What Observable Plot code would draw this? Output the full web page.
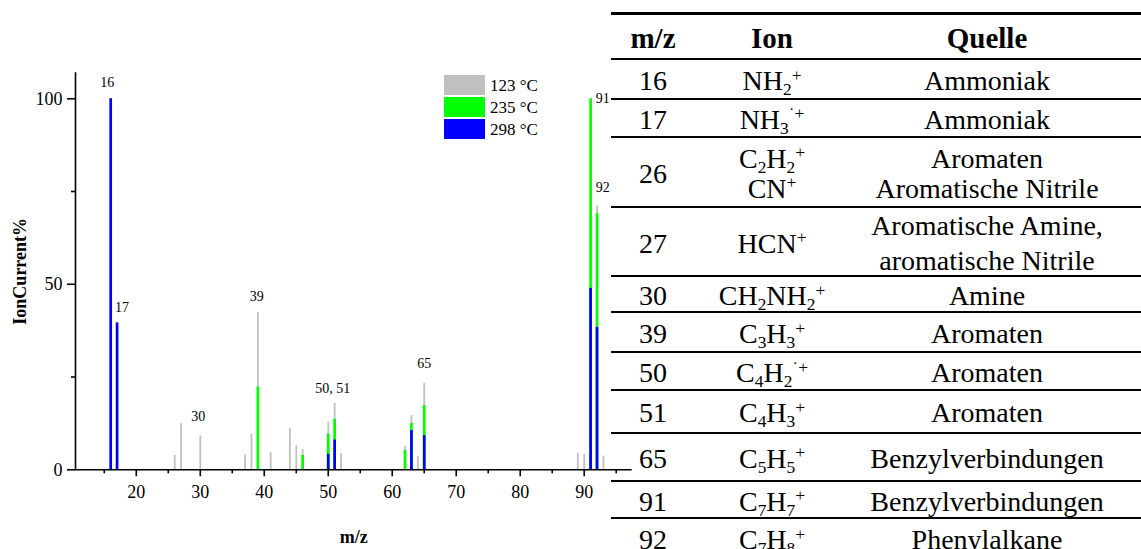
<!DOCTYPE html>
<html>
<head>
<meta charset="utf-8">
<script src="https://cdn.jsdelivr.net/npm/d3@7"></script>
<script src="https://cdn.jsdelivr.net/npm/@observablehq/plot@0.6"></script>
<style>
  html, body { margin: 0; padding: 0; background: #fff; }
  #wrap { position: relative; width: 1141px; height: 549px; overflow: hidden;
          font-family: "Liberation Serif", "Times New Roman", serif; color: #000; }
  #chart { position: absolute; left: 0; top: 0; }
  #legend { position: absolute; left: 444px; top: 74px; }
  .lg-row { display: flex; align-items: center; height: 22px; }
  .lg-sw { width: 41px; height: 19.5px; margin-right: 5px; }
  .lg-tx { font-size: 17px; line-height: 1; white-space: nowrap; }
  #table { position: absolute; left: 611px; top: 0; width: 530px; height: 549px; }
  .tline { position: absolute; left: 0; width: 530px; background: #000; }
  .row { position: absolute; left: 0; width: 530px; display: flex; align-items: center;
         font-size: 28px; line-height: 34px; padding-top: 4px; box-sizing: border-box; }
  .row.head { font-weight: bold; font-size: 29px; }
  .c1 { width: 84px; text-align: center; }
  .c2 { width: 154px; text-align: center; }
  .c3 { width: 292px; text-align: center; padding-right: 16px; box-sizing: border-box; }
  sup, sub { font-size: 0.62em; line-height: 0; position: relative; vertical-align: baseline; }
  sup { top: -0.55em; }
  sub { top: 0.28em; }
</style>
</head>
<body>
<div id="wrap">
  <div id="chart"></div>
  <div id="legend"></div>
  <div id="table"></div>
</div>
<script>
// ---------- chart data ----------
const seriesNames = ["123 °C", "235 °C", "298 °C"];

const mzGray  = [26, 27, 30, 37, 38, 39, 41, 44, 45, 46, 50, 51, 52, 62, 63, 64, 65, 89, 90, 92, 93];
const ionGray = [3.9, 12.4, 9.1, 4.0, 9.6, 42.4, 4.6, 11.1, 6.5, 5.4, 12.8, 17.9, 4.3, 6.3, 14.6, 3.6, 23.3, 4.5, 4.1, 71.2, 3.7];

const mzGreen  = [39, 46, 50, 51, 62, 63, 65, 91, 92];
const ionGreen = [22.3, 3.9, 9.6, 13.6, 5.2, 12.5, 17.3, 100, 69.0];

const mzBlue  = [16, 17, 50, 51, 63, 65, 91, 92];
const ionBlue = [100, 39.6, 4.2, 8.0, 10.6, 9.2, 48.9, 38.4];

const peakLabels = ["16", "17", "30", "39", "50, 51", "65", "91", "92"];
const peakLabelMz = [16, 17, 30, 39, 50.5, 65, 91, 92];

const xTicks = [20, 30, 40, 50, 60, 70, 80, 90];
const xMinorTicks = [15, 25, 35, 45, 55, 65, 75, 85, 95];
const yTicks = [0, 50, 100];
const yMinorTicks = [25, 75];

const xTitle = "m/z";
const yTitle = "IonCurrent%";

// ---------- table data ----------
const tableHeader = ["m/z", "Ion", "Quelle"];
const tableMz = ["16", "17", "26", "27", "30", "39", "50", "51", "65", "91", "92"];
const tableIon = [
  "NH<sub>2</sub><sup>+</sup>",
  "NH<sub>3</sub><sup>˙+</sup>",
  "C<sub>2</sub>H<sub>2</sub><sup>+</sup><br>CN<sup>+</sup>",
  "HCN<sup>+</sup>",
  "CH<sub>2</sub>NH<sub>2</sub><sup>+</sup>",
  "C<sub>3</sub>H<sub>3</sub><sup>+</sup>",
  "C<sub>4</sub>H<sub>2</sub><sup>˙+</sup>",
  "C<sub>4</sub>H<sub>3</sub><sup>+</sup>",
  "C<sub>5</sub>H<sub>5</sub><sup>+</sup>",
  "C<sub>7</sub>H<sub>7</sub><sup>+</sup>",
  "C<sub>7</sub>H<sub>8</sub><sup>+</sup>"
];
const tableSource = [
  "Ammoniak",
  "Ammoniak",
  "Aromaten<br>Aromatische Nitrile",
  "Aromatische Amine,<br>aromatische Nitrile",
  "Amine",
  "Aromaten",
  "Aromaten",
  "Aromaten",
  "Benzylverbindungen",
  "Benzylverbindungen",
  "Phenylalkane"
];

// ---------- styling ----------
const colors = ["#c0c0c0", "#00ff00", "#0000ff"];
const barWidths = [1.8, 2.7, 2.7];
const labelOffsets = {
  "16": {dx: -3.5, dy: -16.6, anchor: "middle"},
  "17": {dx: 5, dy: -15.6, anchor: "middle"},
  "30": {dx: -2, dy: -20, anchor: "middle"},
  "39": {dx: -1, dy: -16.3, anchor: "middle"},
  "50, 51": {dx: 1.4, dy: -14.6, anchor: "middle"},
  "65": {dx: 0, dy: -20, anchor: "middle"},
  "91": {dx: 5.2, dy: 0, anchor: "start"},
  "92": {dx: -1.2, dy: -17.8, anchor: "start"}
};
const tableTop = 13.3;
const headHeight = 46;
const rowHeights = [40, 37.4, 70, 69.3, 36.3, 40, 37.7, 42.7, 48.6, 37, 40];
const rowLineHeights = [34, 34, 30, 35, 34, 34, 34, 34, 34, 34, 34];

// ---------- build chart ----------
const rows = [
  ...mzGray.map((mz, i) => ({mz, value: ionGray[i], series: seriesNames[0]})),
  ...mzGreen.map((mz, i) => ({mz, value: ionGreen[i], series: seriesNames[1]})),
  ...mzBlue.map((mz, i) => ({mz, value: ionBlue[i], series: seriesNames[2]}))
];
const labels = peakLabels.map((text, i) => {
  const mz = peakLabelMz[i];
  const top = d3.max(rows.filter(d => Math.abs(d.mz - mz) <= 0.5), d => d.value);
  return {text, mz, top};
});

const marks = [];
seriesNames.forEach((s, k) => {
  marks.push(Plot.ruleX(rows.filter(d => d.series === s), {
    x: "mz", y1: 0, y2: "value", stroke: colors[k], strokeWidth: barWidths[k]
  }));
});
labels.forEach(l => {
  const o = labelOffsets[l.text];
  marks.push(Plot.text([l], {x: "mz", y: "top", text: "text", dx: o.dx, dy: o.dy,
    textAnchor: o.anchor, fontSize: 14}));
});
marks.push(
  Plot.ruleY([0], {strokeWidth: 1.6}),
  Plot.ruleX([10.5], {strokeWidth: 1.6}),
  Plot.axisX({ticks: xTicks, tickSize: 7, tickPadding: 8, strokeWidth: 1.6, label: null, fontSize: 18}),
  Plot.axisX({ticks: xMinorTicks, tickSize: 4, strokeWidth: 1.6, tickFormat: () => "", label: null}),
  Plot.axisY({ticks: yTicks, tickSize: 8, tickPadding: 5, strokeWidth: 1.6, label: null, fontSize: 18}),
  Plot.axisY({ticks: yMinorTicks, tickSize: 4, strokeWidth: 1.6, tickFormat: () => "", label: null}),
  Plot.text([xTitle], {frameAnchor: "bottom", dy: 67.7, lineAnchor: "middle", textAnchor: "middle",
    fontWeight: "bold", fontSize: 18}),
  Plot.text([yTitle], {frameAnchor: "left", dx: -55, rotate: -90, lineAnchor: "middle", textAnchor: "middle",
    fontWeight: "bold", fontSize: 18})
);

const chart = Plot.plot({
  width: 640,
  height: 549,
  marginLeft: 75,
  marginRight: 8.3,
  marginTop: 72.3,
  marginBottom: 79.7,
  x: {domain: [10.5, 97.5]},
  y: {domain: [0, 107]},
  style: {fontFamily: "Liberation Serif", fontSize: "18px", background: "transparent", overflow: "visible", color: "#000"},
  marks
});
document.getElementById("chart").appendChild(chart);

// ---------- legend ----------
const legend = document.getElementById("legend");
seriesNames.forEach((s, k) => {
  const r = document.createElement("div");
  r.className = "lg-row";
  r.innerHTML = `<div class="lg-sw" style="background:${colors[k]}"></div><div class="lg-tx">${s}</div>`;
  legend.appendChild(r);
});

// ---------- table ----------
const table = document.getElementById("table");
function addLine(y, h) {
  const d = document.createElement("div");
  d.className = "tline";
  d.style.top = (y - h / 2) + "px";
  d.style.height = h + "px";
  table.appendChild(d);
}
function addRow(y0, y1, cells, head, lh) {
  const d = document.createElement("div");
  d.className = "row" + (head ? " head" : "");
  d.style.top = y0 + "px";
  d.style.height = (y1 - y0) + "px";
  if (lh) d.style.lineHeight = lh + "px";
  d.innerHTML = `<div class="c1">${cells[0]}</div><div class="c2">${cells[1]}</div><div class="c3">${cells[2]}</div>`;
  table.appendChild(d);
}
addLine(tableTop, 2.8);
let y = tableTop;
addRow(y, y + headHeight, tableHeader, true);
y += headHeight;
addLine(y, 2.2);
tableMz.forEach((m, i) => {
  addRow(y, y + rowHeights[i], [m, tableIon[i], tableSource[i]], false, rowLineHeights[i]);
  y += rowHeights[i];
  addLine(y, 2.2);
});
</script>
</body>
</html>
